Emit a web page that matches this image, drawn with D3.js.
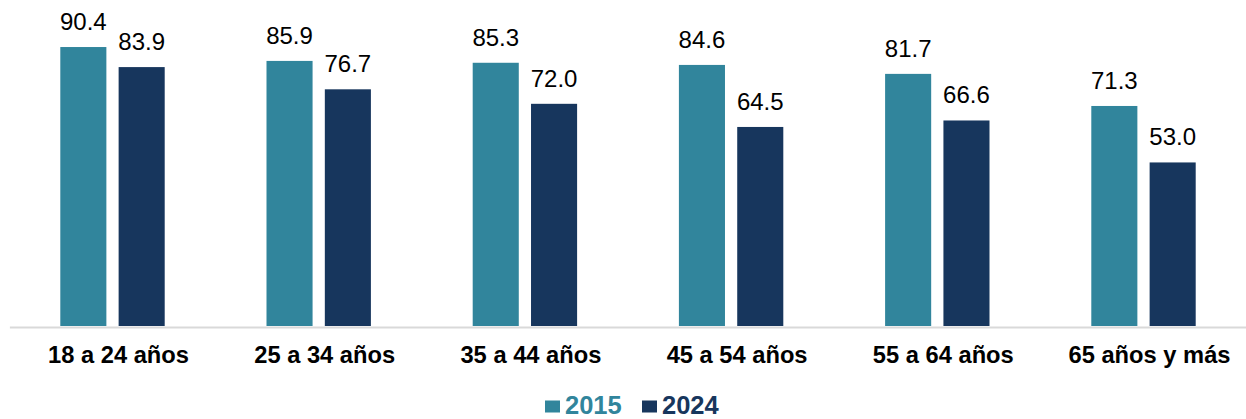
<!DOCTYPE html>
<html>
<head>
<meta charset="utf-8">
<script src="https://cdn.jsdelivr.net/npm/d3@7"></script>
<style>
  html, body { margin: 0; padding: 0; background: #fff; }
  svg { display: block; font-family: "Liberation Sans", Arial, sans-serif; }
</style>
</head>
<body>
<svg id="chart" width="1246" height="419"></svg>
<script>
const categories = ["18 a 24 años", "25 a 34 años", "35 a 44 años", "45 a 54 años", "55 a 64 años", "65 años y más"];
const seriesNames = ["2015", "2024"];
const values2015 = [90.4, 85.9, 85.3, 84.6, 81.7, 71.3];
const values2024 = [83.9, 76.7, 72.0, 64.5, 66.6, 53.0];
const seriesColors = ["#31859c", "#17365d"];

const svg = d3.select("#chart");
const baseY = 326;

const x = d3.scaleBand().domain(categories).range([9.4, 1246.6]).paddingInner(0).paddingOuter(0);
const x1 = d3.scaleBand().domain(seriesNames).range([x.bandwidth() / 2 - 52.2, x.bandwidth() / 2 + 52.2]).paddingInner(0.21).paddingOuter(0);
const y = d3.scaleLinear().domain([0, 105.64]).range([baseY, 0]);

const data = categories.map((c, i) => ({ cat: c, vals: [values2015[i], values2024[i]] }));

const groups = svg.selectAll("g.grp").data(data).join("g")
  .attr("class", "grp")
  .attr("transform", d => `translate(${x(d.cat)},0)`);

groups.selectAll("rect").data(d => d.vals.map((v, j) => ({ s: seriesNames[j], v, j })))
  .join("rect")
  .attr("x", d => x1(d.s))
  .attr("width", x1.bandwidth())
  .attr("y", d => y(d.v))
  .attr("height", d => baseY - y(d.v))
  .attr("fill", d => seriesColors[d.j]);

groups.selectAll("text.val").data(d => d.vals.map((v, j) => ({ s: seriesNames[j], v, j })))
  .join("text")
  .attr("class", "val")
  .attr("x", d => x1(d.s) + x1.bandwidth() / 2)
  .attr("y", d => y(d.v) - 17)
  .attr("text-anchor", "middle")
  .attr("font-size", 24)
  .attr("fill", "#000")
  .text(d => d3.format(".1f")(d.v));

// axis baseline
const xAxis = d3.axisBottom(x).tickSize(0).tickPadding(0);
const axisG = svg.append("g").attr("transform", `translate(0,${baseY + 1})`).call(xAxis);
axisG.select(".domain").attr("stroke", "#d9d9d9").attr("stroke-width", 2);
axisG.selectAll(".tick text")
  .attr("font-family", "Liberation Sans, Arial, sans-serif")
  .attr("font-size", 23.7)
  .attr("font-weight", "bold")
  .attr("fill", "#000")
  .attr("dy", null)
  .attr("y", 36)
  .attr("x", 6);

// legend
const legendItems = [
  { name: seriesNames[0], color: seriesColors[0], x: 545 },
  { name: seriesNames[1], color: seriesColors[1], x: 642 }
];
const lg = svg.append("g");
legendItems.forEach(it => {
  lg.append("rect").attr("x", it.x).attr("y", 400.5).attr("width", 15).attr("height", 12).attr("fill", it.color);
  lg.append("text").attr("x", it.x + 20).attr("y", 413.5)
    .attr("font-size", 25.5).attr("font-weight", "bold").attr("fill", it.color).text(it.name);
});
</script>
</body>
</html>
